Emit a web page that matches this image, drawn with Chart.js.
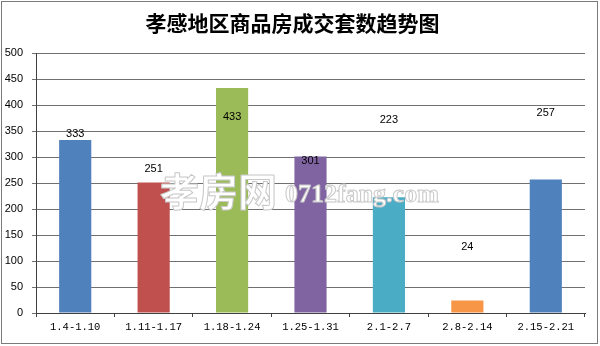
<!DOCTYPE html>
<html>
<head>
<meta charset="utf-8">
<script src="https://cdn.jsdelivr.net/npm/chart.js@4.4.1/dist/chart.umd.min.js"></script>
<style>
  html, body { margin: 0; padding: 0; background: #fff; }
  #wrap { width: 600px; height: 346px; }
</style>
</head>
<body>
<div id="wrap"><canvas id="trend" width="600" height="346"></canvas></div>
<script>
// weekly ranges (x axis)
const weeks = ['1.4-1.10', '1.11-1.17', '1.18-1.24', '1.25-1.31', '2.1-2.7', '2.8-2.14', '2.15-2.21'];
// units sold per week
const units = [333, 251, 433, 301, 223, 24, 257];
// where each value label sits, in axis units (labels float in the source image)
const labelAt = [344, 277, 377, 292, 371, 127, 385];
const barColors = ['#4F81BD', '#C0504D', '#9BBB59', '#8064A2', '#4BACC6', '#F79646', '#4F81BD'];
const yTicks = [0, 50, 100, 150, 200, 250, 300, 350, 400, 450, 500];

const frame = {
  id: 'frame',
  beforeDraw(chart) {
    const ctx = chart.ctx;
    ctx.save();
    ctx.fillStyle = '#fff';
    ctx.fillRect(0, 0, chart.width, chart.height);
    ctx.strokeStyle = '#7a7a7a';
    ctx.lineWidth = 1;
    ctx.strokeRect(1.5, 1.5, chart.width - 4, chart.height - 4);
    ctx.restore();
  }
};

const valueLabels = {
  id: 'valueLabels',
  afterDatasetsDraw(chart) {
    const ctx = chart.ctx;
    const meta = chart.getDatasetMeta(0);
    const y = chart.scales.y;
    ctx.save();
    ctx.font = '11px "Liberation Sans", Arial, sans-serif';
    ctx.fillStyle = '#000';
    ctx.textAlign = 'center';
    ctx.textBaseline = 'middle';
    meta.data.forEach((bar, i) => {
      ctx.fillText(String(units[i]), bar.x, y.getPixelForValue(labelAt[i]));
    });
    ctx.restore();
  }
};

// site watermark: white glyphs with a thin grey outline
const watermark = {
  id: 'watermark',
  afterDraw(chart) {
    const ctx = chart.ctx;
    ctx.save();
    ctx.textBaseline = 'alphabetic';
    ctx.lineJoin = 'round';
    ctx.strokeStyle = '#c8c8c8';
    ctx.fillStyle = '#fff';
    ctx.lineWidth = 1;
    ctx.font = 'bold 39px "Noto Sans CJK SC", sans-serif';
    ctx.fillText('孝房网', 160, 206);
    ctx.strokeText('孝房网', 160, 206);
    ctx.font = 'bold 26px "Liberation Serif", serif';
    ctx.fillText('0712fang.com', 285, 202);
    ctx.strokeText('0712fang.com', 285, 202);
    ctx.restore();
  }
};

new Chart(document.getElementById('trend'), {
  type: 'bar',
  data: {
    labels: weeks,
    datasets: [{
      data: units,
      backgroundColor: barColors,
      borderWidth: 0,
      barPercentage: 0.41,
      categoryPercentage: 1
    }]
  },
  options: {
    responsive: false,
    animation: false,
    layout: { padding: { left: 0, right: 15, top: 0, bottom: 0 } },
    plugins: {
      legend: { display: false },
      tooltip: { enabled: false },
      title: {
        display: true,
        text: '孝感地区商品房成交套数趋势图',
        color: '#000',
        font: { family: '"Noto Sans CJK SC", sans-serif', size: 21, weight: 'bold', lineHeight: 1.2 },
        padding: { top: 10, bottom: 18 }
      }
    },
    scales: {
      x: {
        offset: true,
        grid: { offset: true, drawOnChartArea: false, drawTicks: true, tickLength: 4, color: '#404040' },
        border: { color: '#404040' },
        ticks: { color: '#000', padding: 4, font: { family: '"Liberation Mono", monospace', size: 10.5 } },
        afterFit: (s) => { s.height = 33; }
      },
      y: {
        min: 0,
        max: 500,
        afterBuildTicks: (s) => { s.ticks = yTicks.map(v => ({ value: v })); },
        grid: { color: '#707070', tickLength: 4 },
        border: { color: '#404040' },
        ticks: { color: '#000', padding: 9, font: { family: '"Liberation Sans", Arial, sans-serif', size: 11 } },
        afterFit: (s) => { s.width = 36; }
      }
    }
  },
  plugins: [frame, valueLabels, watermark]
});
</script>
</body>
</html>
